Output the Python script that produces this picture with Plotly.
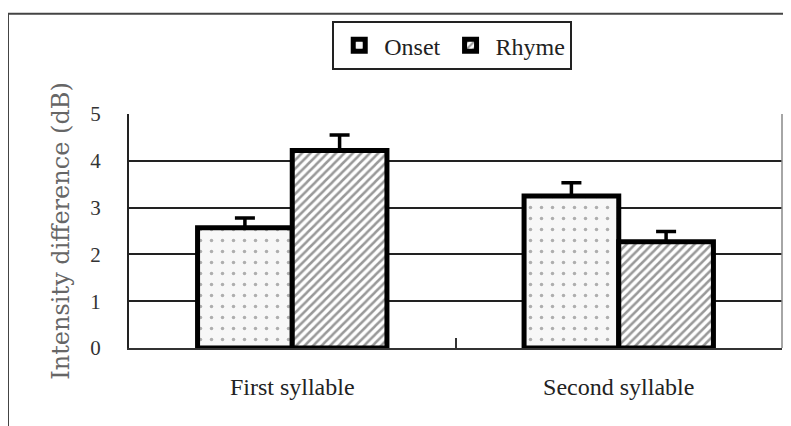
import plotly.graph_objects as go

categories = ["First syllable", "Second syllable"]
series_names = ["Onset", "Rhyme"]
onset_values = [2.57, 3.25]
onset_errors = [0.21, 0.28]
rhyme_values = [4.22, 2.27]
rhyme_errors = [0.33, 0.22]
y_ticks = [0, 1, 2, 3, 4, 5]

fig = go.Figure()
fig.add_trace(go.Bar(
    name=series_names[0], x=categories, y=onset_values,
    marker=dict(color="#f7f7f7", line=dict(color="black", width=5),
                pattern=dict(shape=".", fgcolor="#666", bgcolor="#f7f7f7",
                             size=11, solidity=0.08)),
    error_y=dict(type="data", symmetric=False, array=onset_errors,
                 arrayminus=[0, 0], color="black", thickness=3.5, width=10),
))
fig.add_trace(go.Bar(
    name=series_names[1], x=categories, y=rhyme_values,
    marker=dict(color="white", line=dict(color="black", width=5),
                pattern=dict(shape="/", fgcolor="#333", bgcolor="white",
                             size=6, solidity=0.42)),
    error_y=dict(type="data", symmetric=False, array=rhyme_errors,
                 arrayminus=[0, 0], color="black", thickness=3.5, width=10),
))

serif = "Liberation Serif, Times New Roman, serif"
fig.update_layout(
    width=791, height=426,
    margin=dict(l=121, r=17, t=106, b=86),
    paper_bgcolor="white", plot_bgcolor="white",
    barmode="group", bargap=0.42, bargroupgap=0,
    font=dict(family=serif, color="#222", size=20),
    showlegend=True,
    legend=dict(orientation="h", x=0.495, xanchor="center", y=1.397, yanchor="top",
                bordercolor="#222", borderwidth=2, bgcolor="white",
                font=dict(family=serif, size=24, color="#222"),
                itemwidth=40, tracegroupgap=0),
    xaxis=dict(showline=True, linecolor="#333", linewidth=2, automargin=False,
               ticks="inside", tickson="boundaries", ticklen=10, tickwidth=2,
               tickcolor="#333", showgrid=False, ticklabelstandoff=16,
               tickfont=dict(family=serif, size=24, color="#222")),
    yaxis=dict(range=[0, 5], tickvals=y_ticks, showline=True, linecolor="#222",
               linewidth=2, showgrid=True, gridcolor="#222", gridwidth=1.5,
               zeroline=False, ticks="", ticklabelstandoff=22, automargin=False,
               tickfont=dict(family=serif, size=21, color="#333"),
               title=dict(text="Intensity difference (dB)", standoff=14,
                          font=dict(family="DejaVu Serif, serif", size=24, color="#666"))),
    shapes=[
        dict(type="line", xref="paper", yref="paper", x0=1, x1=1, y0=0, y1=1,
             line=dict(color="#888", width=1.5)),
        dict(type="line", xref="paper", yref="paper", x0=-0.1853, x1=1.1,
             y0=1.428, y1=1.428, line=dict(color="#444", width=2)),
        dict(type="line", xref="paper", yref="paper", x0=-0.1853, x1=-0.1853,
             y0=-0.4, y1=1.428, line=dict(color="#444", width=2)),
    ],
)

fig.write_html("out.html")
